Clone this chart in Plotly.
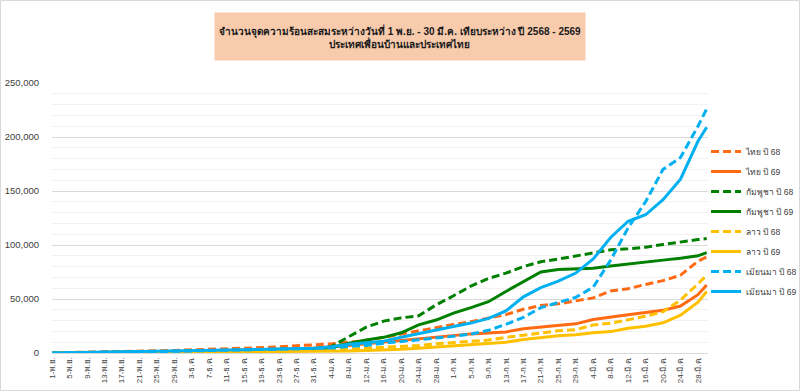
import plotly.graph_objects as go

# ---- data (values in units of hotspots) ----
tick_labels = ["1-พ.ย.", "5-พ.ย.", "9-พ.ย.", "13-พ.ย.", "17-พ.ย.", "21-พ.ย.", "25-พ.ย.", "29-พ.ย.",
               "3-ธ.ค.", "7-ธ.ค.", "11-ธ.ค.", "15-ธ.ค.", "19-ธ.ค.", "23-ธ.ค.", "27-ธ.ค.", "31-ธ.ค.",
               "4-ม.ค.", "8-ม.ค.", "12-ม.ค.", "16-ม.ค.", "20-ม.ค.", "24-ม.ค.", "28-ม.ค.",
               "1-ก.พ.", "5-ก.พ.", "9-ก.พ.", "13-ก.พ.", "17-ก.พ.", "21-ก.พ.", "25-ก.พ.", "29-ก.พ.",
               "4-มี.ค.", "8-มี.ค.", "12-มี.ค.", "16-มี.ค.", "20-มี.ค.", "24-มี.ค.", "28-มี.ค."]
# day number counted from 1 Nov for each sampled value (every 4 days, plus 30 Mar)
day_index = [0, 4, 8, 12, 16, 20, 24, 28, 32, 36, 40, 44, 48, 52, 56, 60, 64, 68, 72, 76,
             80, 84, 88, 92, 96, 100, 104, 108, 112, 116, 120, 124, 128, 132, 136, 140, 144, 148, 150]

# values in thousands
thai_68 = [0.2, 0.4, 0.7, 1.0, 1.3, 1.6, 2.0, 2.4, 2.8, 3.3, 3.8, 4.4, 5.0, 5.8, 6.6, 7.6,
           8.5, 10, 11.5, 14.5, 17.5, 21, 24, 26.5, 29, 32.3, 35.5, 40.5, 44, 45.5, 48, 51,
           57.5, 59.5, 63.5, 67, 72, 85, 89]
thai_69 = [0.1, 0.2, 0.3, 0.5, 0.7, 0.9, 1.1, 1.3, 1.6, 1.9, 2.2, 2.6, 3.0, 3.5, 4.0, 4.6,
           5.5, 7, 8.5, 10, 11.6, 13.2, 14.7, 16.3, 17.7, 18.5, 19.5, 22.5, 24, 25, 27, 31,
           33.5, 35.5, 37.5, 39.5, 43.5, 54, 63]
cam_68 = [0.1, 0.2, 0.3, 0.4, 0.5, 0.7, 0.9, 1.1, 1.3, 1.5, 1.8, 2.1, 2.4, 2.8, 3.2, 3.8,
          6, 15, 24, 29.5, 32.5, 34.5, 44.5, 53, 62, 69, 74, 80, 84.5, 87, 90, 93,
          95.5, 96.5, 98, 100.5, 103, 105, 106]
cam_69 = [0.1, 0.2, 0.3, 0.4, 0.5, 0.7, 0.9, 1.1, 1.3, 1.5, 1.8, 2.1, 2.5, 2.9, 3.3, 3.8,
          4.8, 9, 12, 14.5, 18.7, 26, 30.5, 37, 42, 47.5, 57, 66, 75, 77.3, 77.6, 78.5,
          80.5, 82.5, 84.3, 86, 87.7, 90, 93]
lao_68 = [0.1, 0.2, 0.3, 0.4, 0.5, 0.6, 0.7, 0.8, 1.0, 1.2, 1.4, 1.6, 1.8, 2.0, 2.2, 2.5,
          2.8, 3.6, 4.5, 5.3, 6, 7, 8.5, 9.5, 11, 12, 14.5, 16.5, 19, 20.5, 21.5, 26,
          27.6, 30.7, 34, 38.3, 49, 64, 72]
lao_69 = [0.0, 0.1, 0.1, 0.2, 0.2, 0.3, 0.3, 0.4, 0.5, 0.5, 0.6, 0.7, 0.8, 0.9, 1.0, 1.1,
          1.2, 1.8, 2.3, 2.8, 3.5, 4.5, 5.5, 6.5, 7.4, 8.8, 10, 12.5, 14.5, 16, 16.8, 18.8,
          19.8, 23, 24.7, 28, 35, 47, 57]
mya_68 = [0.1, 0.2, 0.4, 0.6, 0.8, 1.0, 1.3, 1.6, 1.9, 2.2, 2.5, 2.8, 3.1, 3.5, 3.9, 4.3,
          4.6, 6, 7, 9, 10.5, 12, 13.5, 15.5, 17.5, 21, 26.5, 33, 42, 47, 51.5, 61,
          86, 116, 140, 170, 181, 210, 226]
mya_69 = [0.1, 0.3, 0.5, 0.7, 0.9, 1.2, 1.5, 1.8, 2.1, 2.4, 2.7, 3.0, 3.3, 3.6, 4.0, 4.5,
          5.8, 8, 9.5, 11, 14.5, 18, 21.5, 24.5, 27.7, 32, 39, 52, 60.5, 66.5, 74, 87,
          107, 122, 128, 142, 161, 196, 209]

series = [
    ("ไทย ปี 68", thai_68, "#FF6A13", True),
    ("ไทย ปี 69", thai_69, "#FF6A13", False),
    ("กัมพูชา ปี 68", cam_68, "#008000", True),
    ("กัมพูชา ปี 69", cam_69, "#008000", False),
    ("ลาว ปี 68", lao_68, "#FFC000", True),
    ("ลาว ปี 69", lao_69, "#FFC000", False),
    ("เมียนมา ปี 68", mya_68, "#00B0F0", True),
    ("เมียนมา ปี 69", mya_69, "#00B0F0", False),
]

FONT = "'Liberation Sans', Arial, sans-serif"

fig = go.Figure()
for name, vals, color, dashed in series:
    fig.add_trace(go.Scatter(
        x=day_index, y=[v * 1000 for v in vals], name=name, mode="lines",
        legendgroup=name,
        line=dict(color=color, width=3, dash="8px,4px" if dashed else "solid"),
    ))

fig.update_layout(
    width=800, height=391,
    margin=dict(l=52, r=92, t=83, b=38, autoexpand=False),
    paper_bgcolor="white", plot_bgcolor="white",
    font=dict(family=FONT, color="#404040"),
    showlegend=True,
    legend=dict(x=0.997, y=0.80, xanchor="left", yanchor="top",
                font=dict(size=8.5, color="#404040"), bgcolor="rgba(0,0,0,0)",
                itemwidth=30, tracegroupgap=1),
    xaxis=dict(
        range=[0, 150.3], tickmode="array",
        tickvals=list(range(0, 149, 4)), ticktext=tick_labels,
        tickangle=-90, tickfont=dict(size=8, color="#404040"),
        showgrid=False, showline=True, linecolor="#D9D9D9", linewidth=1,
        ticks="", zeroline=False, automargin=False,
    ),
    yaxis=dict(
        range=[0, 250000], dtick=50000, tickformat=",",
        tickfont=dict(size=9.5, color="#404040"),
        showgrid=True, gridcolor="#D9D9D9", gridwidth=1,
        minor=dict(dtick=10000, showgrid=True, gridcolor="#F2F2F2", gridwidth=1),
        zeroline=False, showline=False, ticks="", automargin=False,
        ticklabelstandoff=12,
    ),
)

fig.add_annotation(
    xref="paper", yref="paper", x=(400 - 52) / 656, y=(353 - 36.5) / 270,
    xanchor="center", yanchor="middle", showarrow=False,
    text="<b>จำนวนจุดความร้อนสะสมระหว่างวันที่ 1 พ.ย. - 30 มี.ค. เทียบระหว่าง ปี 2568 - 2569</b><br><b>ประเทศเพื่อนบ้านและประเทศไทย</b>",
    font=dict(size=10, color="#1A1A1A", family=FONT),
    bgcolor="#F8CBAD", width=368, height=45, align="center",
)

fig.add_shape(type="rect", xref="paper", yref="paper",
              x0=(0.5 - 52) / 656, x1=(799.5 - 52) / 656,
              y0=(353 - 390.5) / 270, y1=(353 - 0.5) / 270,
              line=dict(color="#D9D9D9", width=1), fillcolor="rgba(0,0,0,0)", layer="below")

fig.write_html("out.html", config={"displayModeBar": False},
               post_script="document.body.style.margin='0px';document.body.style.overflow='hidden';")
